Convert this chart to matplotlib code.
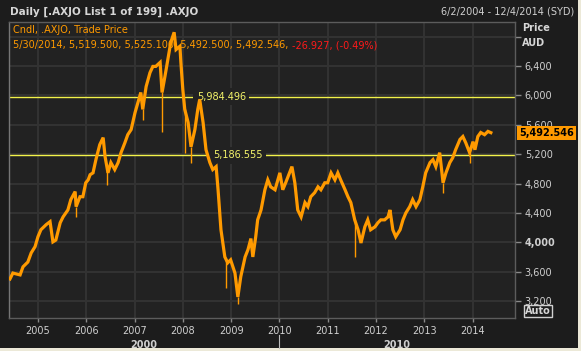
import matplotlib
matplotlib.use('Agg')
from matplotlib import pyplot as plt
from matplotlib.patches import Rectangle
import matplotlib.transforms as mtransforms
import numpy as np

# weekly-ish closes (decimal year, price)
dates = [2004.42, 2004.48, 2004.63, 2004.69, 2004.79, 2004.86, 2004.94, 2005.00, 2005.06, 2005.17,
         2005.25, 2005.31, 2005.37, 2005.46, 2005.52, 2005.62, 2005.68, 2005.77, 2005.79, 2005.87,
         2005.93, 2005.99, 2006.04, 2006.08, 2006.14, 2006.20, 2006.28, 2006.35, 2006.39, 2006.45,
         2006.51, 2006.59, 2006.66, 2006.72, 2006.80, 2006.86, 2006.93, 2007.01, 2007.07, 2007.13,
         2007.17, 2007.24, 2007.32, 2007.38, 2007.44, 2007.53, 2007.57, 2007.63, 2007.69, 2007.75,
         2007.82, 2007.86, 2007.94, 2007.96, 2008.00, 2008.04, 2008.11, 2008.17, 2008.25, 2008.31,
         2008.35, 2008.42, 2008.48, 2008.56, 2008.62, 2008.69, 2008.73, 2008.79, 2008.87, 2008.93,
         2008.99, 2009.08, 2009.14, 2009.20, 2009.29, 2009.35, 2009.41, 2009.45, 2009.51, 2009.55,
         2009.62, 2009.70, 2009.76, 2009.82, 2009.91, 2010.01, 2010.07, 2010.13, 2010.22, 2010.26,
         2010.32, 2010.38, 2010.45, 2010.53, 2010.59, 2010.65, 2010.73, 2010.80, 2010.86, 2010.94,
         2011.00, 2011.07, 2011.15, 2011.21, 2011.27, 2011.36, 2011.42, 2011.48, 2011.56, 2011.63,
         2011.69, 2011.77, 2011.83, 2011.89, 2011.98, 2012.04, 2012.10, 2012.18, 2012.25, 2012.29,
         2012.35, 2012.41, 2012.50, 2012.56, 2012.62, 2012.70, 2012.76, 2012.83, 2012.91, 2012.97,
         2013.03, 2013.12, 2013.18, 2013.24, 2013.32, 2013.39, 2013.45, 2013.53, 2013.59, 2013.65,
         2013.74, 2013.80, 2013.86, 2013.94, 2014.01, 2014.05, 2014.11, 2014.17, 2014.25, 2014.32,
         2014.38]
closes = [3500, 3580, 3555, 3665, 3730, 3855, 3940, 4075, 4170, 4240,
          4280, 4005, 4030, 4265, 4345, 4440, 4580, 4690, 4485, 4620,
          4620, 4810, 4850, 4920, 4945, 5125, 5330, 5425, 5165, 4945,
          5085, 4990, 5085, 5220, 5355, 5465, 5535, 5765, 5905, 6040,
          5810, 6120, 6310, 6395, 6395, 6450, 6040, 6260, 6490, 6720,
          6860, 6625, 6670, 6450, 6080, 5810, 5630, 5300, 5535, 5810,
          5945, 5630, 5260, 5085, 4990, 5030, 4715, 4170, 3800, 3720,
          3760, 3580, 3255, 3530, 3800, 3900, 4050, 3800, 4075, 4305,
          4440, 4715, 4850, 4755, 4715, 4945, 4715, 4810, 4960, 5030,
          4810, 4440, 4345, 4540, 4485, 4620, 4675, 4755, 4715, 4810,
          4810, 4945, 4850, 4945, 4850, 4715, 4620, 4540, 4305, 4170,
          3990, 4210, 4305, 4170, 4210, 4265, 4305, 4305, 4345, 4440,
          4170, 4075, 4170, 4305, 4400, 4485, 4580, 4485, 4580, 4755,
          4945, 5085, 5125, 5030, 5220, 4810, 4945, 5085, 5150, 5260,
          5400, 5440, 5355, 5220, 5370, 5260, 5440, 5495, 5465, 5510,
          5492.546]

# long lower wicks visible on the chart
wick_dates = [2005.79, 2006.44, 2007.17, 2007.57, 2008.04, 2008.17, 2008.89, 2009.14,
              2011.56, 2013.39, 2013.94]
wick_lows = [4345, 4785, 5670, 5495, 5220, 5085, 3380, 3160,
             3800, 4675, 5085]

level_values = [5984.496, 5186.555]
level_label_x = [2008.29, 2008.62]

year_ticks = list(range(2005, 2015))
price_ticks = list(range(3200, 7200, 400))
last_price = 5492.546

W, H = 581, 351
BG = '#1c1c1c'
PLOT_BG = '#222222'
GRID = '#323232'
TXT = '#cfcfcf'
ORANGE = '#ff9a00'


def fx(px):
    return px / W


def fy(py):
    return 1 - py / H


plt.rcParams['font.family'] = ['DejaVu Sans']
fig = plt.figure(figsize=(W / 100, H / 100), dpi=100)
fig.patch.set_facecolor('#ece9d8')
fig.patches.append(Rectangle((0, fy(348)), fx(578), 1 - fy(348), transform=fig.transFigure,
                             facecolor=BG, edgecolor='none', zorder=-5))

ax = fig.add_axes([fx(9), fy(318), fx(515) - fx(9), fy(22) - fy(318)])
ax.set_zorder(1)
ax.set_facecolor(PLOT_BG)
ax.set_xlim(2004.40, 2014.88)
ax.set_ylim(2968, 7000)

# grid
ax.set_xticks(year_ticks)
ax.set_yticks(price_ticks)
ax.grid(True, color=GRID, lw=1.5, zorder=0)
ax.set_axisbelow(True)

ax.yaxis.tick_right()
ax.set_yticklabels(['{:,}'.format(p) if p != 6800 else '' for p in price_ticks])
ax.set_xticklabels([str(y) for y in year_ticks])
ax.tick_params(axis='both', colors='#8a8a8a', labelcolor=TXT, labelsize=7, length=4, width=1, pad=3)
ax.tick_params(axis='x', length=3, pad=2.5)
for lab in ax.get_yticklabels():
    if lab.get_text() == '4,000':
        lab.set_fontweight('bold')
for side, sp in ax.spines.items():
    sp.set_color('#5c5c5c')
    sp.set_linewidth(1)
ax.spines['left'].set_color('#767676')

# data
ax.plot(dates, closes, color=ORANGE, lw=2.3, solid_joinstyle='miter', zorder=4)
ax.vlines(wick_dates, wick_lows, np.interp(wick_dates, dates, closes), color=ORANGE, lw=1, zorder=4)

# horizontal level lines
for v, lx in zip(level_values, level_label_x):
    ax.axhline(v, color='#f2f24a', lw=1, zorder=2)
    ax.text(lx, v, '{:,.3f}'.format(v), color='#f4f46a', fontsize=7, va='center', ha='left', zorder=3,
            bbox=dict(boxstyle='square,pad=0.35', facecolor=PLOT_BG, edgecolor='none'))

# legend lines inside the plot
t1 = ax.text(fx(13), fy(30), 'Cndl, .AXJO, Trade Price', transform=fig.transFigure, color=ORANGE,
             fontsize=7, va='center', ha='left', zorder=1, clip_on=False)
t2 = ax.text(fx(13), fy(45), '5/30/2014, 5,519.500, 5,525.100, 5,492.500, 5,492.546,',
             transform=fig.transFigure, color=ORANGE, fontsize=7, va='center', ha='left', zorder=1)
fig.canvas.draw()
bb = t2.get_window_extent()
ax.text(bb.x1 / W + fx(4), fy(45), '-26.927, (-0.49%)', transform=fig.transFigure, color='#ff1a1a',
        fontsize=7, va='center', ha='left', zorder=1)

# last price tag
ytrans = mtransforms.blended_transform_factory(fig.transFigure, ax.transData)
ax.text(fx(519), last_price, '{:,.3f}'.format(last_price), transform=ytrans, color='black',
        fontsize=7, fontweight='bold', va='center', ha='left', clip_on=False, zorder=6,
        bbox=dict(boxstyle='square,pad=0.2', facecolor=ORANGE, edgecolor='none'))

# decade labels under the year axis
xtrans = mtransforms.blended_transform_factory(ax.transData, fig.transFigure)
x0, x1 = ax.get_xlim()
ax.text((x0 + 2010) / 2, fy(345), '2000', transform=xtrans, color=TXT, fontsize=7,
        fontweight='bold', ha='center', va='center', clip_on=False)
ax.text((2010 + x1) / 2, fy(345), '2010', transform=xtrans, color=TXT, fontsize=7,
        fontweight='bold', ha='center', va='center', clip_on=False)
ax.plot([2010, 2010], [fy(335), fy(348)], transform=xtrans, color='#bdbdbd', lw=0.8, clip_on=False)

# header
fig.text(fx(10), fy(12), 'Daily [.AXJO List 1 of 199] .AXJO', color='#d6d6d6', fontsize=7.5,
         fontweight='bold', va='center', ha='left')
fig.text(fx(574), fy(12), '6/2/2004 - 12/4/2014 (SYD)', color=TXT, fontsize=7, va='center', ha='right')
fig.text(fx(522), fy(28), 'Price', color='#d6d6d6', fontsize=7, fontweight='bold', va='center')
fig.text(fx(522), fy(43), 'AUD', color='#d6d6d6', fontsize=7, fontweight='bold', va='center')
fig.text(fx(525), fy(311), 'Auto', color='#d6d6d6', fontsize=7, fontweight='bold', va='center',
         bbox=dict(boxstyle='square,pad=0.15', facecolor='none', edgecolor='#d0d0d0', lw=1))

plt.savefig('out.png', dpi=100, facecolor=fig.get_facecolor())
